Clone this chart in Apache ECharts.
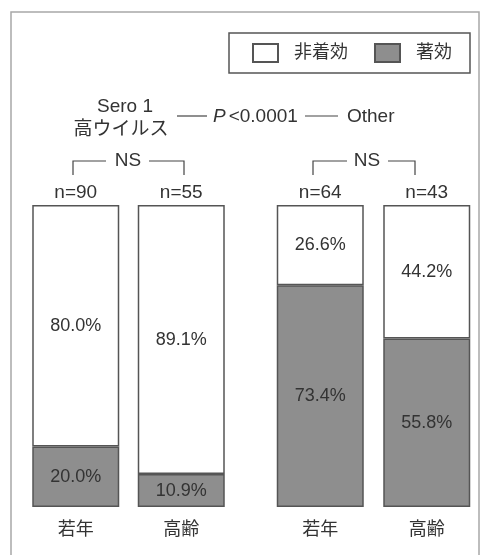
<!DOCTYPE html>
<html>
<head>
<meta charset="utf-8">
<script src="https://cdn.jsdelivr.net/npm/echarts@6/dist/echarts.min.js"></script>
<style>
  html, body { margin: 0; padding: 0; background: #fff; }
  #chart { width: 487px; height: 555px; }
</style>
</head>
<body>
<div id="chart"></div>
<script>
// 群ごとのデータ
var categories = ['若年', '高齢'];
var leftNoEffect = [80.0, 89.1];   // Sero 1 高ウイルス 非着効
var leftEffect = [20.0, 10.9];     // Sero 1 高ウイルス 著効
var rightNoEffect = [26.6, 44.2];  // Other 非着効
var rightEffect = [73.4, 55.8];    // Other 著効
var leftN = [90, 55];
var rightN = [64, 43];

var FONT = '"Liberation Sans", "Noto Sans CJK JP", sans-serif';
var textColor = '#333';
var edge = '#555';
var gray = '#8e8e8e';

function pct(p) { return p.value.toFixed(1) + '%'; }

function makeSeries(idx, noEff, eff, ns) {
    return [
        {
            name: '著効',
            type: 'bar',
            stack: 's' + idx,
            xAxisIndex: idx,
            yAxisIndex: idx,
            data: eff,
            barWidth: 87,
            itemStyle: { color: gray, borderColor: edge, borderWidth: 1.5 },
            label: { show: true, position: 'inside', formatter: pct, fontFamily: FONT, fontSize: 18, color: textColor }
        },
        {
            name: '非着効',
            type: 'bar',
            stack: 's' + idx,
            xAxisIndex: idx,
            yAxisIndex: idx,
            data: noEff,
            barWidth: 87,
            itemStyle: { color: '#fff', borderColor: edge, borderWidth: 1.5 },
            label: { show: true, position: 'inside', formatter: pct, fontFamily: FONT, fontSize: 18, color: textColor }
        },
        {
            // n= ラベル（上端）
            type: 'bar',
            stack: 's' + idx,
            xAxisIndex: idx,
            yAxisIndex: idx,
            data: [0, 0],
            barWidth: 87,
            silent: true,
            itemStyle: { color: 'transparent' },
            label: {
                show: true, position: 'top', distance: 3,
                formatter: function (p) { return 'n=' + ns[p.dataIndex]; },
                fontFamily: FONT, fontSize: 19, color: textColor
            }
        }
    ];
}

function txt(s, x, y, align) {
    return {
        type: 'text', silent: true,
        style: {
            text: s, x: x, y: y, textAlign: align || 'center', textVerticalAlign: 'middle',
            font: '19px ' + FONT, fill: textColor,
            rich: { i: { fontStyle: 'italic', fontSize: 19, fontFamily: FONT, color: textColor, padding: [0, 3, 0, 0] } }
        }
    };
}
function seg(points) {
    return { type: 'polyline', silent: true, shape: { points: points }, style: { stroke: '#444', lineWidth: 1.2, fill: 'none' } };
}

var chart = echarts.init(document.getElementById('chart'));
var axisX = function (idx) {
    return {
        type: 'category', gridIndex: idx, data: categories,
        axisLine: { show: false }, axisTick: { show: false },
        axisLabel: { margin: 14, fontFamily: FONT, fontSize: 18, color: textColor }
    };
};
var axisY = function (idx) {
    return { type: 'value', gridIndex: idx, min: 0, max: 100, show: false };
};

chart.setOption({
    animation: false,
    textStyle: { fontFamily: FONT },
    grid: [
        { left: 23, width: 211, top: 205, bottom: 48 },
        { left: 267, width: 213, top: 205, bottom: 48 }
    ],
    xAxis: [axisX(0), axisX(1)],
    yAxis: [axisY(0), axisY(1)],
    legend: {
        data: ['非着効', '著効'],
        left: 229, top: 33,
        orient: 'horizontal',
        icon: 'rect',
        itemWidth: 25, itemHeight: 18, itemGap: 26,
        padding: [10, 18, 10, 23],
        borderColor: edge, borderWidth: 1.5,
        textStyle: { fontFamily: FONT, fontSize: 18, color: textColor, padding: [0, 0, 0, 11] }
    },
    graphic: [
        // 外枠
        { type: 'rect', silent: true, shape: { x: 11, y: 12, width: 468, height: 560 }, style: { fill: 'none', stroke: '#a8a8a8', lineWidth: 1.5 } },
        // 比較注記
        txt('Sero 1', 125, 107),
        txt('高ウイルス', 121, 130),
        seg([[177, 116], [207, 116]]),
        txt('{i|P}<0.0001', 213, 117, 'left'),
        seg([[305, 116], [338, 116]]),
        txt('Other', 347, 117, 'left'),
        // NS ブラケット（左）
        seg([[73, 175], [73, 161], [106, 161]]),
        txt('NS', 128, 161),
        seg([[149, 161], [184, 161], [184, 175]]),
        // NS ブラケット（右）
        seg([[313, 175], [313, 161], [347, 161]]),
        txt('NS', 367, 161),
        seg([[388, 161], [415, 161], [415, 175]])
    ],
    series: makeSeries(0, leftNoEffect, leftEffect, leftN).concat(makeSeries(1, rightNoEffect, rightEffect, rightN))
});
</script>
</body>
</html>
